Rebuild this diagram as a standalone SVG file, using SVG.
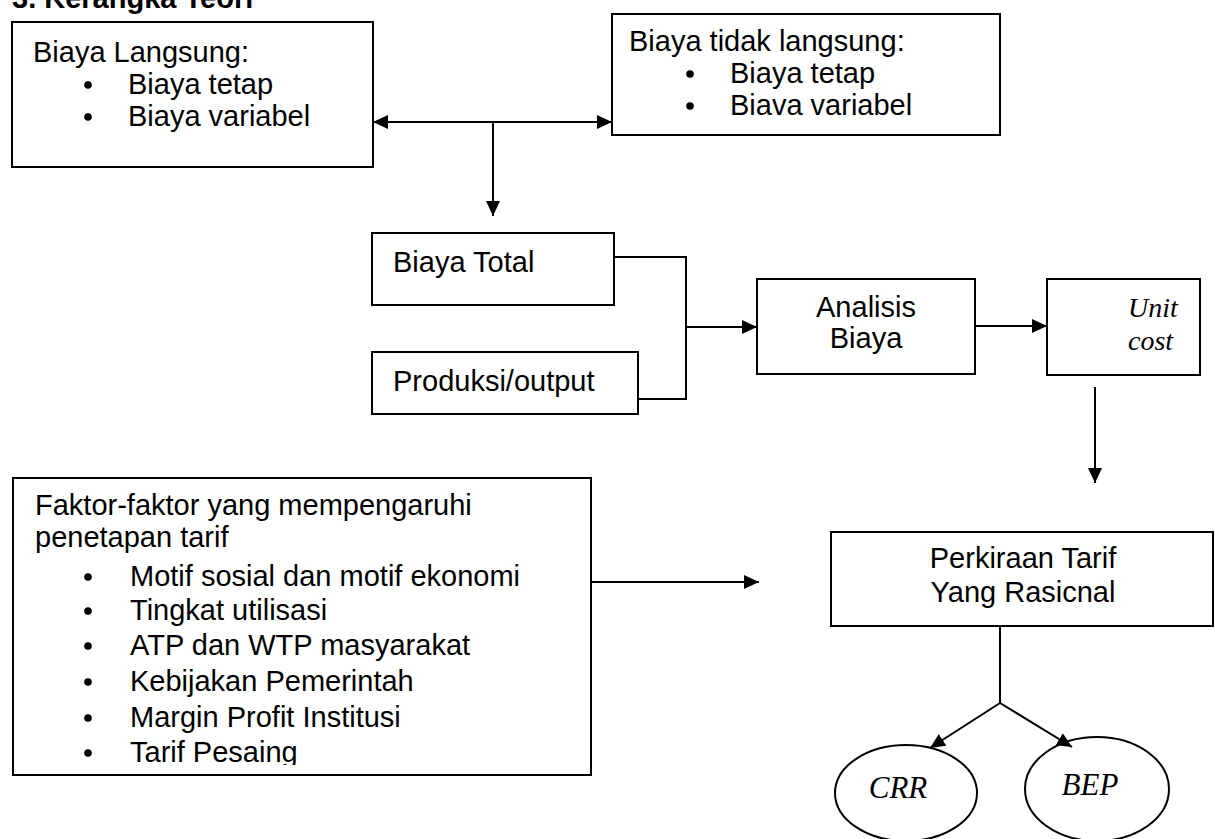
<svg xmlns="http://www.w3.org/2000/svg" width="1215" height="839" viewBox="0 0 1215 839">
<style>
.box{fill:#fff;stroke:#000;stroke-width:2}
.t{font-family:"Liberation Sans",Arial,sans-serif;font-size:29px;fill:#000}
.tb{font-family:"Liberation Sans",Arial,sans-serif;font-size:29px;font-weight:bold;fill:#000}
.s{font-family:"Liberation Serif","Times New Roman",serif;font-style:italic;fill:#000}
.ln{fill:none;stroke:#000;stroke-width:2}
.bul{fill:#000}
</style>
<defs>
<marker id="ah" markerUnits="userSpaceOnUse" markerWidth="16" markerHeight="14" refX="15" refY="7" orient="auto-start-reverse">
<path d="M0,0 L15,7 L0,14 z" fill="#000"/>
</marker>
<clipPath id="clipF"><rect x="13" y="478" width="578" height="287"/></clipPath>
</defs>
<rect width="1215" height="839" fill="#fff"/>
<text class="tb" x="12" y="8">3. Kerangka Teori</text>

<g id="biaya-langsung">
<rect class="box" x="12" y="22" width="361" height="145"/>
<text class="t" x="33" y="62">Biaya Langsung:</text>
<circle class="bul" cx="88" cy="85" r="3.8"/>
<text class="t" x="128" y="94">Biaya tetap</text>
<circle class="bul" cx="88" cy="117" r="3.8"/>
<text class="t" x="128" y="126">Biaya variabel</text>
</g>

<g id="biaya-tidak-langsung">
<rect class="box" x="612" y="14" width="388" height="121"/>
<text class="t" x="629" y="51">Biaya tidak langsung:</text>
<circle class="bul" cx="690" cy="74" r="3.8"/>
<text class="t" x="730" y="83">Biaya tetap</text>
<circle class="bul" cx="690" cy="106" r="3.8"/>
<text class="t" x="730" y="115">Biava variabel</text>
</g>

<g id="biaya-total">
<rect class="box" x="372" y="233" width="242" height="72"/>
<text class="t" x="393" y="272">Biaya Total</text>
</g>

<g id="produksi">
<rect class="box" x="372" y="352" width="266" height="62"/>
<text class="t" x="393" y="391">Produksi/output</text>
</g>

<g id="analisis-biaya">
<rect class="box" x="757" y="279" width="218" height="95"/>
<text class="t" x="866" y="317" text-anchor="middle">Analisis</text>
<text class="t" x="866" y="348" text-anchor="middle">Biaya</text>
</g>

<g id="unit-cost">
<rect class="box" x="1047" y="279" width="153" height="96"/>
<text class="s" x="1128" y="317" font-size="28">Unit</text>
<text class="s" x="1128" y="350" font-size="28">cost</text>
</g>

<g id="faktor">
<rect class="box" x="13" y="478" width="578" height="297"/>
<g clip-path="url(#clipF)">
<text class="t" x="35" y="515">Faktor-faktor yang mempengaruhi</text>
<text class="t" x="35" y="547">penetapan tarif</text>
<circle class="bul" cx="88" cy="577" r="3.8"/>
<text class="t" x="130" y="586">Motif sosial dan motif ekonomi</text>
<circle class="bul" cx="88" cy="611" r="3.8"/>
<text class="t" x="130" y="620">Tingkat utilisasi</text>
<circle class="bul" cx="88" cy="646" r="3.8"/>
<text class="t" x="130" y="655">ATP dan WTP masyarakat</text>
<circle class="bul" cx="88" cy="682" r="3.8"/>
<text class="t" x="130" y="691">Kebijakan Pemerintah</text>
<circle class="bul" cx="88" cy="718" r="3.8"/>
<text class="t" x="130" y="727">Margin Profit Institusi</text>
<circle class="bul" cx="88" cy="753" r="3.8"/>
<text class="t" x="130" y="762">Tarif Pesaing</text>
</g>
</g>

<g id="perkiraan-tarif">
<rect class="box" x="831" y="532" width="382" height="94"/>
<text class="t" x="1023" y="568" text-anchor="middle">Perkiraan Tarif</text>
<text class="t" x="1023" y="602" text-anchor="middle">Yang Rasicnal</text>
</g>

<g id="crr">
<ellipse class="box" cx="906" cy="793" rx="71" ry="48"/>
<text class="s" x="898" y="798" font-size="31" text-anchor="middle">CRR</text>
</g>

<g id="bep">
<ellipse class="box" cx="1097" cy="789" rx="72" ry="52"/>
<text class="s" x="1090" y="795" font-size="31" text-anchor="middle">BEP</text>
</g>

<g id="connectors">
<line class="ln" x1="373" y1="122" x2="612" y2="122" stroke-width="3" marker-start="url(#ah)" marker-end="url(#ah)"/>
<line class="ln" x1="493" y1="122" x2="493" y2="216" marker-end="url(#ah)"/>
<polyline class="ln" points="614,257 686,257 686,399 638,399"/>
<line class="ln" x1="686" y1="327" x2="757" y2="327" marker-end="url(#ah)"/>
<line class="ln" x1="975" y1="326" x2="1047" y2="326" marker-end="url(#ah)"/>
<line class="ln" x1="1095" y1="387" x2="1095" y2="483" marker-end="url(#ah)"/>
<line class="ln" x1="591" y1="582" x2="759" y2="582" stroke-width="3" marker-end="url(#ah)"/>
<line class="ln" x1="1000" y1="626" x2="1000" y2="703"/>
<line class="ln" x1="1000" y1="703" x2="930" y2="748" marker-end="url(#ah)"/>
<line class="ln" x1="1000" y1="703" x2="1072" y2="747" marker-end="url(#ah)"/>
</g>
</svg>
